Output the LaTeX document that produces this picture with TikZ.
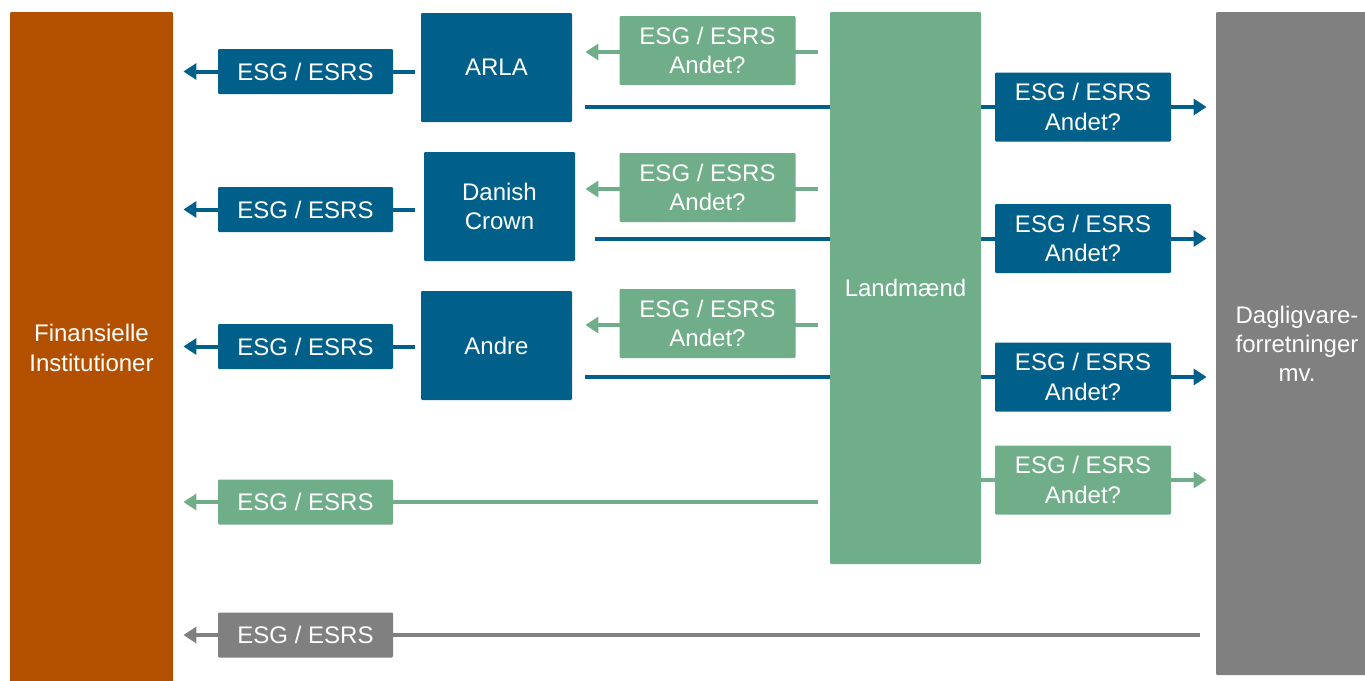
\documentclass[tikz,border=0pt]{standalone}
\usepackage{fontspec}
\setmainfont{Liberation Sans}
\usetikzlibrary{arrows.meta, backgrounds}

\definecolor{finorange}{HTML}{B35000}
\definecolor{coopblue}{HTML}{00608A}
\definecolor{farmgreen}{HTML}{6FAE89}
\definecolor{shopgray}{HTML}{808080}

\begin{document}
\begin{tikzpicture}[x=0.5pt, y=-0.5pt,
    box/.style={inner sep=0pt, text=white, align=center,
        font=\fontsize{12}{14.6}\selectfont, rounded corners=0.6pt},
    tagbox/.style={box, minimum width=87.5pt, minimum height=22.5pt},
    flowbox/.style={box, minimum width=88pt, minimum height=34.5pt},
    flow/.style={line width=2pt},
    tip/.style={-{Triangle[length=6.5pt, width=8pt]}}]
    \useasboundingbox (0, 0) rectangle (1365, 680);

    % big blocks
    \node [box, fill=finorange, minimum width=81.5pt, minimum height=336pt] (fin) at (91.5, 348) {Finansielle\\Institutioner};
    \node [box, fill=shopgray, minimum width=81pt, minimum height=331.5pt] (dag) at (1297, 343.5) {Dagligvare-\\forretninger\\mv.};
    \node [box, fill=farmgreen, minimum width=75.5pt, minimum height=276pt] (land) at (905.5, 288) {Landmænd};

    % cooperatives
    \node [box, fill=coopblue, minimum width=75.5pt, minimum height=54.5pt] (arla) at (496.5, 67.5) {ARLA};
    \node [box, fill=coopblue, minimum width=75.5pt, minimum height=54.5pt] (crown) at (499.5, 206.5) {Danish\\Crown};
    \node [box, fill=coopblue, minimum width=75.5pt, minimum height=54.5pt] (andre) at (496.5, 345.5) {Andre};

    % tags towards the financial institutions
    \node [tagbox, fill=coopblue] (tagA) at (305.5, 71.5) {ESG / ESRS};
    \node [tagbox, fill=coopblue] (tagB) at (305.5, 209.5) {ESG / ESRS};
    \node [tagbox, fill=coopblue] (tagC) at (305.5, 346.5) {ESG / ESRS};
    \node [tagbox, fill=farmgreen] (tagD) at (305.5, 502) {ESG / ESRS};
    \node [tagbox, fill=shopgray] (tagE) at (305.5, 635) {ESG / ESRS};

    % farmers to cooperatives
    \node [flowbox, fill=farmgreen] (farmA) at (707.5, 50.5) {ESG / ESRS\\Andet?};
    \node [flowbox, fill=farmgreen] (farmB) at (707.5, 187.5) {ESG / ESRS\\Andet?};
    \node [flowbox, fill=farmgreen] (farmC) at (707.5, 323.5) {ESG / ESRS\\Andet?};

    % towards the shops
    \node [flowbox, fill=coopblue] (shopA) at (1083, 107) {ESG / ESRS\\Andet?};
    \node [flowbox, fill=coopblue] (shopB) at (1083, 238.5) {ESG / ESRS\\Andet?};
    \node [flowbox, fill=coopblue] (shopC) at (1083, 377) {ESG / ESRS\\Andet?};
    \node [flowbox, fill=farmgreen] (shopD) at (1083, 480) {ESG / ESRS\\Andet?};

    \begin{scope}[on background layer]
        % to the financial institutions
        \draw [flow, coopblue, shorten <=3pt] (tagA.east -| arla.west) -- (tagA.east);
        \draw [flow, coopblue, shorten <=4.5pt] (tagB.east -| crown.west) -- (tagB.east);
        \draw [flow, coopblue, shorten <=3pt] (tagC.east -| andre.west) -- (tagC.east);
        \draw [flow, farmgreen, shorten <=6pt] (tagD.east -| land.west) -- (tagD.east);
        \draw [flow, shopgray, shorten <=8pt] (tagE.east -| dag.west) -- (tagE.east);
        \foreach \t/\c in {tagA/coopblue, tagB/coopblue, tagC/coopblue, tagD/farmgreen, tagE/shopgray}
            \draw [flow, tip, \c, shorten >=5pt] (\t.west) -- (\t.west -| fin.east);

        % farmers to cooperatives
        \draw [flow, tip, farmgreen, shorten <=6pt, shorten >=6.5pt] ([yshift=-0.75pt]farmA.east -| land.west) -- ([yshift=-0.75pt]farmA.west -| arla.east);
        \draw [flow, tip, farmgreen, shorten <=6pt, shorten >=5pt] ([yshift=-0.75pt]farmB.east -| land.west) -- ([yshift=-0.75pt]farmB.west -| crown.east);
        \draw [flow, tip, farmgreen, shorten <=6pt, shorten >=6.5pt] ([yshift=-0.75pt]farmC.east -| land.west) -- ([yshift=-0.75pt]farmC.west -| andre.east);

        % cooperatives and farmers to the shops
        \draw [flow, coopblue, shorten <=6.5pt] (shopA.west -| arla.east) -- (shopA.west);
        \draw [flow, coopblue, shorten <=10pt] (shopB.west -| crown.east) -- (shopB.west);
        \draw [flow, coopblue, shorten <=6.5pt] (shopC.west -| andre.east) -- (shopC.west);
        \draw [flow, farmgreen] (shopD.west -| land.east) -- (shopD.west);
        \foreach \s/\c in {shopA/coopblue, shopB/coopblue, shopC/coopblue, shopD/farmgreen}
            \draw [flow, tip, \c, shorten >=4.5pt] (\s.east) -- (\s.east -| dag.west);
    \end{scope}
\end{tikzpicture}
\end{document}
